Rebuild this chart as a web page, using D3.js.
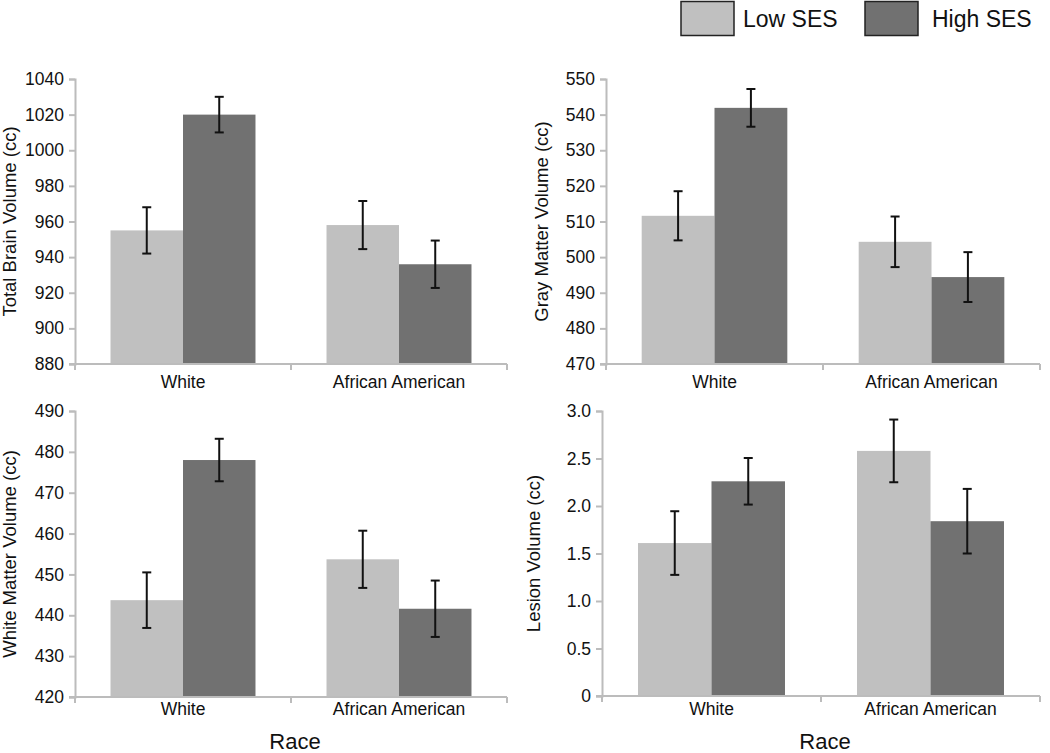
<!DOCTYPE html>
<html><head><meta charset="utf-8">
<script src="https://cdn.jsdelivr.net/npm/d3@7"></script>
<style>body{margin:0;background:#fff}svg{display:block}text{font-family:"Liberation Sans",Arial,sans-serif;fill:#111}</style>
</head><body><svg id="c" width="1050" height="753"></svg>
<script>
const categories = ["White", "African American"];
const series = ["Low SES", "High SES"];
const panelTitles = ["Total Brain Volume (cc)", "Gray Matter Volume (cc)", "White Matter Volume (cc)", "Lesion Volume (cc)"];
// values per panel: [White, African American]
const lowSES  = [[955, 958], [511.6, 504.3], [443.7, 453.7], [1.61, 2.58]];
const highSES = [[1020, 936], [541.9, 494.4], [478, 441.6], [2.26, 1.84]];
const lowErr  = [[13, 13.5], [6.9, 7.1], [6.8, 7], [0.335, 0.33]];
const highErr = [[10, 13.3], [5.3, 7], [5.2, 6.9], [0.245, 0.34]];
const yDomains = [[880, 1040], [470, 550], [420, 490], [0, 3]];
const yTicks = [
  [880, 900, 920, 940, 960, 980, 1000, 1020, 1040],
  [470, 480, 490, 500, 510, 520, 530, 540, 550],
  [420, 430, 440, 450, 460, 470, 480, 490],
  [0, 0.5, 1.0, 1.5, 2.0, 2.5, 3.0]
];
const xTitle = "Race";

const colors = {"Low SES": "#c0c0c0", "High SES": "#717171"};
const axisColor = "#bcbcbc";

// layout
const layouts = [
  {x0: 75, x1: 507, y0: 79, y1: 364, titleX: 16, labelY: 388},
  {x0: 606, x1: 1040, y0: 79, y1: 364, titleX: 548, labelY: 388},
  {x0: 75, x1: 507, y0: 411, y1: 697, titleX: 16, labelY: 715},
  {x0: 602, x1: 1040, y0: 411, y1: 696, titleX: 540, labelY: 715}
];

const svg = d3.select("#c");

layouts.forEach((L, p) => {
  const g = svg.append("g");
  const x0 = d3.scaleBand().domain(categories).range([L.x0, L.x1]).paddingInner(0).paddingOuter(0);
  const x1 = d3.scaleBand().domain(series).range([0, x0.bandwidth()]).paddingInner(0).paddingOuter(0.49);
  const y = d3.scaleLinear().domain(yDomains[p]).range([L.y1, L.y0]);

  const rows = [];
  categories.forEach((c, i) => {
    rows.push({cat: c, s: "Low SES", v: lowSES[p][i], e: lowErr[p][i]});
    rows.push({cat: c, s: "High SES", v: highSES[p][i], e: highErr[p][i]});
  });

  // bars
  g.selectAll("rect.bar").data(rows).enter().append("rect")
    .attr("x", d => x0(d.cat) + x1(d.s))
    .attr("width", x1.bandwidth())
    .attr("y", d => y(d.v))
    .attr("height", d => y(yDomains[p][0]) - y(d.v))
    .attr("fill", d => colors[d.s]);

  // y axis
  const fmt = p === 3 ? (d => d === 0 ? "0" : d.toFixed(1)) : d3.format("d");
  const ya = g.append("g").attr("transform", `translate(${L.x0},0)`)
    .call(d3.axisLeft(y).tickValues(yTicks[p]).tickFormat(fmt).tickSize(6).tickPadding(5));
  ya.select(".domain").attr("stroke", axisColor).attr("stroke-width", 2);
  ya.selectAll(".tick line").attr("stroke", axisColor).attr("stroke-width", 2);
  ya.selectAll(".tick text").style("font-size", "17.5px").attr("fill", "#111")
    .style("font-family", '"Liberation Sans",Arial,sans-serif');

  // x axis
  const xa = g.append("g").attr("transform", `translate(0,${L.y1})`);
  xa.append("line").attr("x1", L.x0 - 6).attr("x2", L.x1).attr("y1", 0).attr("y2", 0)
    .attr("stroke", axisColor).attr("stroke-width", 2);
  const bounds = categories.map(c => x0(c)).concat([L.x1]);
  xa.selectAll("line.tk").data(bounds).enter().append("line")
    .attr("x1", d => d).attr("x2", d => d).attr("y1", 0).attr("y2", 6)
    .attr("stroke", axisColor).attr("stroke-width", 2);
  g.selectAll("text.cat").data(categories).enter().append("text")
    .attr("x", d => x0(d) + x0.bandwidth() / 2)
    .attr("y", L.labelY)
    .attr("text-anchor", "middle")
    .style("font-size", "17.5px")
    .text(d => d);

  // error bars
  const eb = g.selectAll("g.eb").data(rows).enter().append("g")
    .attr("stroke", "#111").attr("stroke-width", 2);
  eb.append("line")
    .attr("x1", d => x0(d.cat) + x1(d.s) + x1.bandwidth() / 2)
    .attr("x2", d => x0(d.cat) + x1(d.s) + x1.bandwidth() / 2)
    .attr("y1", d => y(d.v + d.e)).attr("y2", d => y(d.v - d.e));
  [1, -1].forEach(sgn => {
    eb.append("line")
      .attr("x1", d => x0(d.cat) + x1(d.s) + x1.bandwidth() / 2 - 4.5)
      .attr("x2", d => x0(d.cat) + x1(d.s) + x1.bandwidth() / 2 + 4.5)
      .attr("y1", d => y(d.v + sgn * d.e)).attr("y2", d => y(d.v + sgn * d.e));
  });

  // y title
  const cy = (L.y0 + L.y1) / 2;
  g.append("text")
    .attr("transform", `translate(${L.titleX},${cy}) rotate(-90)`)
    .attr("text-anchor", "middle")
    .style("font-size", "18.5px")
    .text(panelTitles[p]);

  // x title for bottom row
  if (p >= 2) {
    g.append("text")
      .attr("x", (L.x0 + L.x1) / 2 + 4)
      .attr("y", 749)
      .attr("text-anchor", "middle")
      .style("font-size", "22px")
      .text(xTitle);
  }
});

// legend
const legendPos = [{bx: 681, tx: 743}, {bx: 865, tx: 932}];
const lg = svg.append("g");
series.forEach((s, i) => {
  lg.append("rect").attr("x", legendPos[i].bx).attr("y", 1.5).attr("width", 53).attr("height", 34)
    .attr("fill", colors[s]).attr("stroke", "#222").attr("stroke-width", 1.5);
  lg.append("text").attr("x", legendPos[i].tx).attr("y", 27).style("font-size", "23px").text(s);
});
</script></body></html>
